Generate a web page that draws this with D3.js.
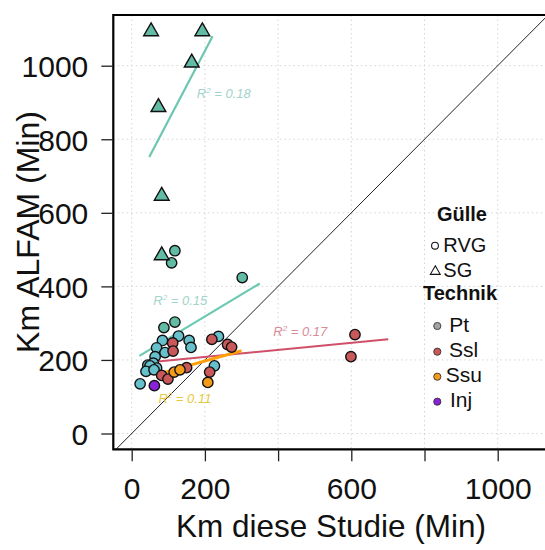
<!DOCTYPE html>
<html><head><meta charset="utf-8">
<script src="https://cdn.jsdelivr.net/npm/d3@7/dist/d3.min.js"></script>
<style>
html,body{margin:0;padding:0;background:#fff;}
svg{display:block;font-family:"Liberation Sans",Arial,sans-serif;}
</style></head>
<body><svg id="c" width="545" height="550"></svg>
<script>
// ---- data ----
const sgPtX = [53, 193, 164, 73, 82, 82];
const sgPtY = [1093, 1093, 1008, 887, 646, 484];

const rvgPtGreenX = [118, 109, 302, 118, 88];
const rvgPtGreenY = [497, 464, 424, 303, 288];

const rvgPtCyanX = [128, 84, 157, 162, 68, 91, 64, 44, 59, 68, 50, 39, 61, 23, 237, 226];
const rvgPtCyanY = [265, 253, 253, 234, 233, 220, 209, 186, 191, 178, 184, 169, 173, 135, 264, 184];

const rvgSslX = [112, 113, 82, 99, 150, 219, 262, 273, 213, 610, 599];
const rvgSslY = [246, 224, 158, 148, 179, 256, 242, 235, 167, 269, 209];

const rvgSsuX = [116, 132, 208];
const rvgSsuY = [167, 173, 139];

const rvgInjX = [62];
const rvgInjY = [130];

// regression lines: [x0, y0, x1, y1]
const lineSG  = [48, 752, 221, 1080];
const linePt  = [21, 211, 350, 408];
const lineSsl = [64, 195, 701, 256];
const lineSsu = [82, 164, 300, 225];

const r2Labels = ["0.18", "0.15", "0.17", "0.11"];
const r2X = [178, 59, 387, 73];
const r2Y = [912, 349, 265, 83];

const xTicks = [0, 200, 400, 600, 800, 1000];
const xTickLabels = ["0", "200", "", "600", "", "1000"];
const yTicks = [0, 200, 400, 600, 800, 1000];
const yTickLabels = ["0", "200", "400", "600", "800", "1000"];

const legendGroupTitle = "Gülle";
const legendGroups = ["RVG", "SG"];
const legendTechTitle = "Technik";
const legendTech = ["Pt", "Ssl", "Ssu", "Inj"];

// ---- drawing ----
const svg = d3.select("#c");
const L = 113.3, R = 548, T = 15, B = 449.3;
const x = d3.scaleLinear().domain([0, 1000]).range([131.7, 497.7]);
const y = d3.scaleLinear().domain([0, 1000]).range([433.5, 65.7]);

svg.append("defs").append("clipPath").attr("id", "clip")
  .append("rect").attr("x", L).attr("y", T).attr("width", R - L).attr("height", B - T);

// grid
const grid = svg.append("g").attr("stroke", "#d4d4d4").attr("stroke-width", 1).attr("stroke-dasharray", "1.5,3");
grid.selectAll("line.v").data(xTicks).join("line").attr("class", "v")
  .attr("x1", d => x(d)).attr("x2", d => x(d)).attr("y1", T).attr("y2", B);
grid.selectAll("line.h").data(yTicks).join("line").attr("class", "h")
  .attr("y1", d => y(d)).attr("y2", d => y(d)).attr("x1", L).attr("x2", R);

const plot = svg.append("g").attr("clip-path", "url(#clip)");

// 1:1 line
plot.append("line")
  .attr("x1", x(x.invert(L))).attr("y1", y(x.invert(L)))
  .attr("x2", x(1300)).attr("y2", y(1300))
  .attr("stroke", "#222").attr("stroke-width", 1);

// regression lines
const regs = [
  {l: lineSG, c: "#6cc6b0", w: 2.2},
  {l: linePt, c: "#6cc9b2", w: 2.2},
  {l: lineSsl, c: "#d0506a", w: 2},
  {l: lineSsu, c: "#ffa00a", w: 3}
];
plot.selectAll("line.reg").data(regs).join("line").attr("class", "reg")
  .attr("x1", d => x(d.l[0])).attr("y1", d => y(d.l[1]))
  .attr("x2", d => x(d.l[2])).attr("y2", d => y(d.l[3]))
  .attr("stroke", d => d.c).attr("stroke-width", d => d.w);

// R2 labels
const r2Colors = ["#9fd5ca", "#9fd5ca", "#d98b98", "#e6c83c"];
const r2 = plot.selectAll("text.r2").data(r2Labels).join("text").attr("class", "r2")
  .attr("x", (d, i) => x(r2X[i])).attr("y", (d, i) => y(r2Y[i]))
  .attr("fill", (d, i) => r2Colors[i]).attr("font-size", 13).attr("font-style", "italic");
r2.append("tspan").text("R");
r2.append("tspan").attr("font-size", 8).attr("dy", -5).text("2");
r2.append("tspan").attr("dy", 5).text(" = ");
r2.append("tspan").text(d => d);

// points
function circles(xs, ys, fill) {
  plot.append("g").selectAll("circle").data(xs).join("circle")
    .attr("cx", (d, i) => x(xs[i])).attr("cy", (d, i) => y(ys[i])).attr("r", 5.2)
    .attr("fill", fill).attr("stroke", "#111").attr("stroke-width", 1.4);
}
circles(rvgPtGreenX, rvgPtGreenY, "#62bba4");
circles(rvgPtCyanX, rvgPtCyanY, "#66c1cd");
circles(rvgSslX, rvgSslY, "#c8585a");
circles(rvgSsuX, rvgSsuY, "#f39c1a");
circles(rvgInjX, rvgInjY, "#8a22d8");

const tri = d3.symbol().type(d3.symbolTriangle).size(95);
plot.append("g").selectAll("path").data(sgPtX).join("path")
  .attr("transform", (d, i) => `translate(${x(sgPtX[i])},${y(sgPtY[i])})`)
  .attr("d", tri).attr("fill", "#62bba4").attr("stroke", "#111").attr("stroke-width", 1.4);

// frame
svg.append("path").attr("d", `M${R + 5},${T}H${L}V${B}H${R + 5}`)
  .attr("fill", "none").attr("stroke", "#000").attr("stroke-width", 2.2);

// axes
const xAxis = svg.append("g").attr("transform", `translate(0,${B})`)
  .call(d3.axisBottom(x).tickValues(xTicks).tickSize(12).tickFormat((d, i) => xTickLabels[i]));
xAxis.select(".domain").remove();
xAxis.selectAll(".tick line").attr("stroke", "#222").attr("stroke-width", 1.3);
xAxis.selectAll(".tick text").attr("y", 50).attr("dy", 0).attr("font-size", 30)
  .attr("font-family", "Liberation Sans, Arial, sans-serif").attr("fill", "#111");

const yAxis = svg.append("g").attr("transform", `translate(${L},0)`)
  .call(d3.axisLeft(y).tickValues(yTicks).tickSize(12).tickFormat((d, i) => yTickLabels[i]));
yAxis.select(".domain").remove();
yAxis.selectAll(".tick line").attr("stroke", "#222").attr("stroke-width", 1.3);
yAxis.selectAll(".tick text").attr("x", -25).attr("dy", "0.36em").attr("font-size", 30)
  .attr("font-family", "Liberation Sans, Arial, sans-serif").attr("fill", "#111");

// axis titles
svg.append("text").attr("x", 331).attr("y", 537).attr("text-anchor", "middle")
  .attr("font-size", 31.5).attr("fill", "#111").text("Km diese Studie (Min)");
svg.append("text").attr("transform", "translate(38.5,232) rotate(-90)").attr("text-anchor", "middle")
  .attr("font-size", 32).attr("fill", "#111").text("Km ALFAM (Min)");

// legend
const lg = svg.append("g").attr("font-size", 20).attr("fill", "#111");
lg.append("text").attr("x", 462).attr("y", 221).attr("text-anchor", "middle")
  .attr("font-weight", "bold").text(legendGroupTitle);
const gY = [252.3, 276.7];
lg.append("circle").attr("cx", 435).attr("cy", 245.7).attr("r", 3.4)
  .attr("fill", "none").attr("stroke", "#111").attr("stroke-width", 1.1);
lg.append("path").attr("transform", "translate(435.3,271.5)")
  .attr("d", d3.symbol().type(d3.symbolTriangle).size(42))
  .attr("fill", "none").attr("stroke", "#111").attr("stroke-width", 1.1);
lg.selectAll("text.g").data(legendGroups).join("text").attr("class", "g")
  .attr("x", 443.3).attr("y", (d, i) => gY[i]).text(d => d);
lg.append("text").attr("x", 460).attr("y", 300).attr("text-anchor", "middle")
  .attr("font-weight", "bold").text(legendTechTitle);
const tCol = ["#a3a3a3", "#c8585a", "#f39c1a", "#8a22d8"];
const tCy = [326, 351.7, 376.7, 401.7];
const tTx = [449.3, 449, 445.7, 450];
const tBase = [331.7, 356.7, 381.7, 407];
lg.selectAll("circle.t").data(legendTech).join("circle").attr("class", "t")
  .attr("cx", 437.3).attr("cy", (d, i) => tCy[i]).attr("r", 3.6)
  .attr("fill", (d, i) => tCol[i]).attr("stroke", "#333").attr("stroke-width", 0.9);
lg.selectAll("text.t").data(legendTech).join("text").attr("class", "t")
  .attr("x", (d, i) => tTx[i]).attr("y", (d, i) => tBase[i]).attr("font-size", 21).text(d => d);
</script>
</body></html>
